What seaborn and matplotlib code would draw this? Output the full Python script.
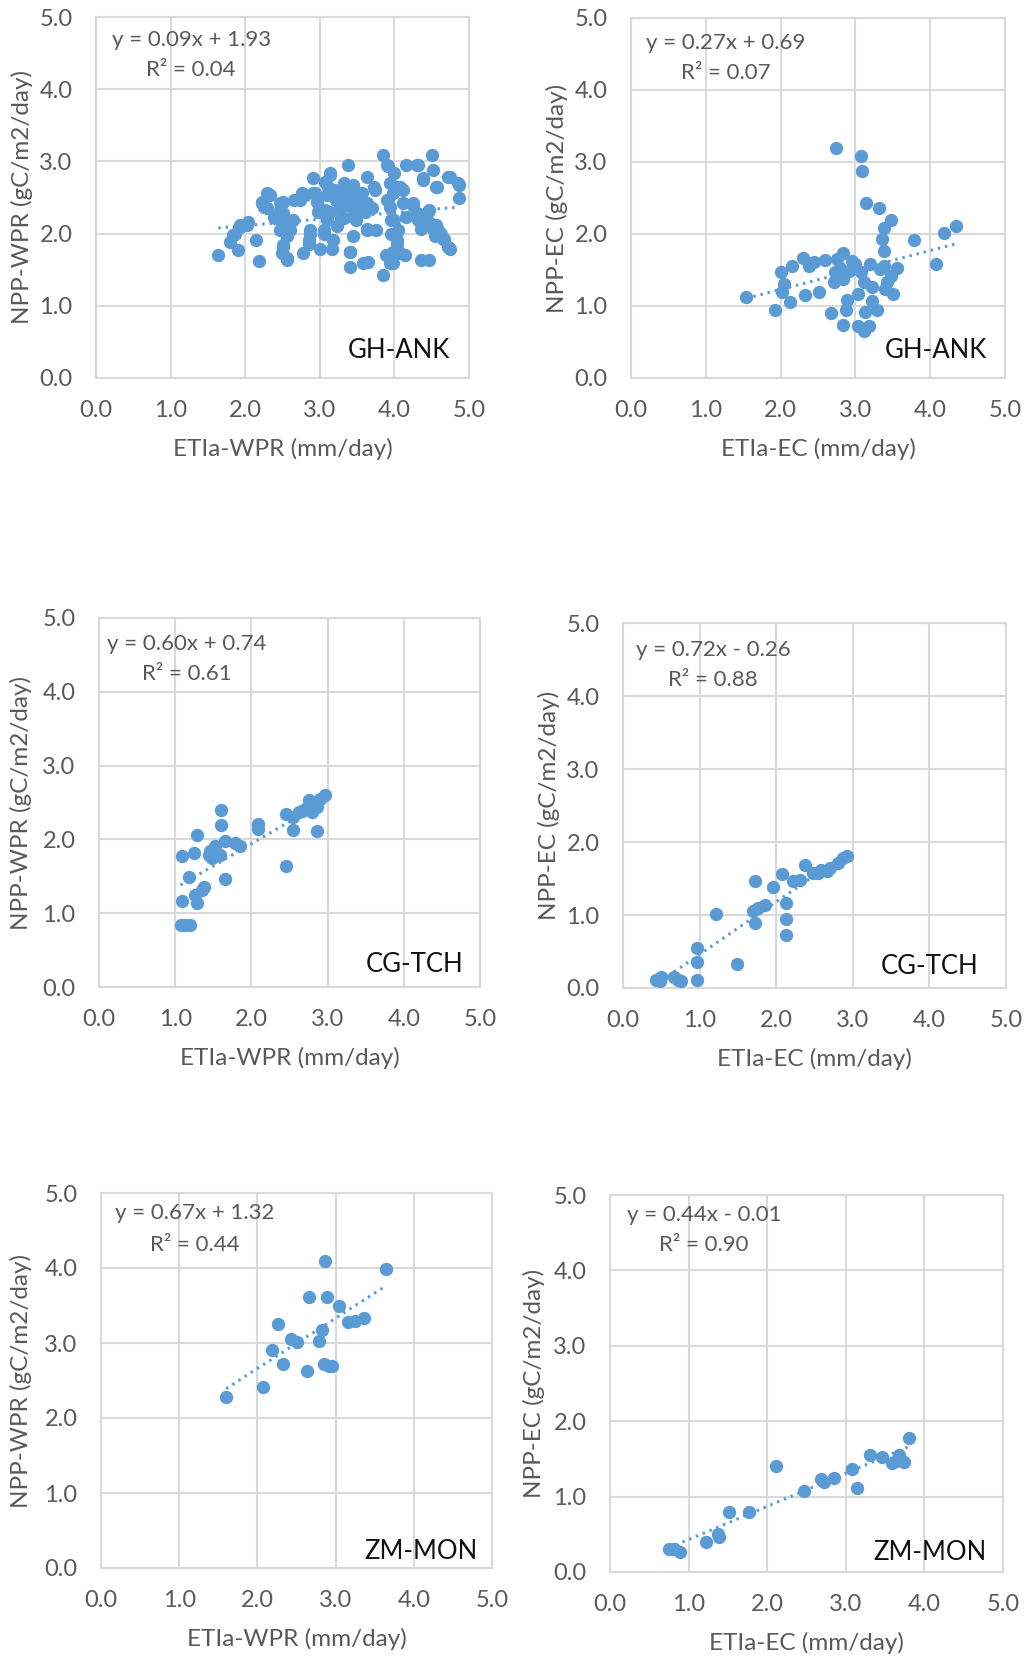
import numpy as np
import pandas as pd
import matplotlib
matplotlib.use("Agg")
import matplotlib.pyplot as plt
import seaborn as sns

# ---------------- data ----------------
p1_x = [1.64, 1.80, 1.91, 1.86, 1.93, 2.04, 2.15, 2.18, 2.22, 2.33, 2.29, 2.40, 2.49, 2.51, 2.47, 2.51, 2.49, 2.56,
        2.60, 2.64, 2.73, 2.80, 2.91, 2.93, 2.87, 2.78, 2.85, 3.00, 3.05, 3.07, 3.11, 3.14, 3.18, 3.16, 3.22, 3.29,
        3.34, 3.38, 3.40, 3.45, 3.40, 3.40, 3.45, 3.51, 3.56, 3.63, 3.63, 3.58, 3.65, 3.72, 3.76, 3.85, 3.92, 3.92,
        3.85, 3.89, 3.98, 4.00, 4.03, 4.00, 4.04, 4.07, 4.11, 4.14, 4.16, 4.30, 4.25, 4.30, 4.38, 4.38, 4.36, 4.47,
        4.50, 4.52, 4.56, 4.47, 4.56, 4.63, 4.67, 4.74, 4.74, 4.87, 4.87,
        3.14, 3.07, 3.32, 3.45, 3.74, 3.54, 3.36, 3.23, 3.09, 2.96, 2.91, 2.76, 2.65, 2.51, 2.22, 2.25, 2.38, 2.47,
        2.51, 2.56, 2.51, 2.56, 2.87, 2.85, 3.05, 3.09, 3.00, 3.14, 3.27, 3.41, 3.49, 3.63, 3.70, 3.45, 3.32, 3.49,
        3.23, 3.63, 3.41, 3.94, 3.96, 3.96, 3.94, 3.98, 3.90, 4.05, 4.03, 3.98, 3.94, 3.90, 4.07, 4.12, 4.16, 4.25,
        4.32, 4.36, 4.45, 4.48, 4.52, 4.54, 4.59, 4.65, 4.72, 4.32, 4.39, 4.57, 4.72, 4.85, 3.90, 1.93, 2.02, 1.84,
        2.29, 2.47, 2.78, 2.98, 3.36, 3.30, 3.50, 3.20, 3.60]
p1_y = [1.71, 1.89, 1.77, 2.00, 2.09, 2.16, 1.91, 1.62, 2.42, 2.53, 2.35, 2.21, 2.42, 2.28, 2.05, 1.84, 1.73, 1.63,
        2.05, 2.19, 2.47, 2.53, 2.77, 2.56, 2.00, 1.73, 1.86, 1.79, 2.05, 2.33, 2.65, 2.81, 1.91, 1.79, 2.47, 2.21,
        2.65, 2.95, 2.47, 1.96, 1.75, 1.54, 2.65, 2.37, 2.56, 2.79, 2.05, 1.59, 1.61, 2.65, 2.05, 3.09, 2.93, 2.47,
        1.42, 1.70, 1.59, 2.84, 2.65, 2.19, 1.91, 1.73, 2.61, 1.70, 2.95, 2.95, 2.42, 2.28, 2.74, 2.19, 1.63, 1.63,
        3.09, 2.88, 2.65, 2.33, 2.12, 2.00, 1.93, 1.79, 2.79, 2.67, 2.49,
        2.84, 2.72, 2.70, 2.67, 2.60, 2.51, 2.56, 2.49, 2.54, 2.44, 2.56, 2.56, 2.47, 2.44, 2.44, 2.37, 2.23, 2.33,
        2.14, 1.96, 1.82, 1.66, 2.05, 1.91, 2.00, 2.19, 2.33, 2.30, 2.37, 2.42, 2.37, 2.42, 2.35, 2.26, 2.21, 2.19,
        2.10, 2.07, 1.75, 2.37, 2.19, 2.00, 2.70, 2.56, 2.47, 2.05, 1.86, 1.75, 1.59, 1.70, 2.65, 2.42, 2.23, 2.40,
        2.19, 2.07, 2.30, 2.14, 2.07, 1.96, 2.05, 1.93, 1.82, 2.95, 2.77, 2.65, 2.79, 2.70, 2.95, 2.12, 2.12, 1.98,
        2.56, 2.42, 2.53, 2.30, 2.40, 2.50, 2.50, 2.60, 2.30]

p2_x = [2.74, 3.07, 3.09, 3.14, 3.32, 3.48, 3.38, 3.36, 3.38, 3.79, 4.18, 4.35, 4.08, 1.54, 1.93, 2.13, 2.00, 2.04,
        2.02, 2.15, 2.30, 2.38, 2.44, 2.59, 2.32, 2.52, 2.68, 2.84, 2.80, 2.73, 2.71, 2.84, 2.91, 2.99, 3.07, 3.11,
        3.22, 2.89, 3.04, 2.87, 2.84, 3.13, 3.22, 3.29, 3.03, 3.11, 3.18, 3.20, 3.33, 3.38, 3.56, 3.47, 3.42, 3.40,
        3.50, 2.95, 2.76]
p2_y = [3.19, 3.09, 2.87, 2.43, 2.36, 2.19, 2.09, 1.93, 1.77, 1.92, 2.01, 2.11, 1.59, 1.12, 0.95, 1.05, 1.47, 1.30,
        1.19, 1.56, 1.67, 1.55, 1.61, 1.64, 1.15, 1.19, 0.90, 1.74, 1.53, 1.47, 1.33, 1.37, 1.49, 1.58, 1.47, 1.33,
        1.26, 1.09, 1.16, 0.95, 0.74, 0.91, 1.07, 0.95, 0.72, 0.65, 0.72, 1.58, 1.51, 1.56, 1.53, 1.42, 1.33, 1.23,
        1.16, 1.63, 1.65]

p3_x = [1.09, 1.25, 1.29, 1.60, 1.60, 1.18, 1.09, 1.28, 1.26, 1.35, 1.38, 1.07, 1.13, 1.20, 1.46, 1.48, 1.52,
        1.59, 1.66, 1.65, 1.79, 1.85, 2.09, 2.09, 2.45, 2.45, 2.55, 2.55, 2.66, 2.70, 2.75, 2.79, 2.86, 2.86, 2.90,
        2.97, 2.81, 2.62, 1.44]
p3_y = [1.78, 1.82, 2.06, 2.40, 2.19, 1.49, 1.17, 1.14, 1.24, 1.31, 1.36, 0.84, 0.84, 0.84, 1.84, 1.75, 1.91,
        1.79, 1.98, 1.47, 1.95, 1.91, 2.21, 2.14, 1.64, 2.34, 2.13, 2.30, 2.39, 2.41, 2.53, 2.37, 2.11, 2.44, 2.55,
        2.60, 2.48, 2.37, 1.79]

p4_x = [0.43, 0.50, 0.48, 0.67, 0.76, 0.72, 0.96, 0.97, 0.96, 1.21, 1.49, 1.72, 1.72, 1.70, 1.76, 1.85, 1.96,
        2.07, 2.13, 2.13, 2.13, 2.22, 2.31, 2.38, 2.48, 2.59, 2.70, 2.81, 2.87, 2.92, 2.66, 2.55]
p4_y = [0.11, 0.15, 0.09, 0.15, 0.09, 0.11, 0.11, 0.36, 0.55, 1.02, 0.33, 1.46, 0.89, 1.05, 1.10, 1.14, 1.38,
        1.56, 1.16, 0.94, 0.73, 1.47, 1.48, 1.69, 1.58, 1.62, 1.64, 1.71, 1.78, 1.81, 1.60, 1.58]

p5_x = [1.60, 2.07, 2.19, 2.26, 2.33, 2.43, 2.51, 2.63, 2.66, 2.79, 2.83, 2.86, 2.89, 2.85, 2.91, 2.95, 3.04,
        3.16, 3.25, 3.36, 3.64]
p5_y = [2.28, 2.41, 2.91, 3.25, 2.72, 3.05, 3.02, 2.63, 3.62, 3.03, 3.17, 4.10, 3.62, 2.72, 2.69, 2.69, 3.50,
        3.28, 3.29, 3.33, 3.99]

p6_x = [0.75, 0.82, 0.89, 1.22, 1.38, 1.39, 1.51, 1.77, 2.11, 2.47, 2.68, 2.72, 2.85, 3.08, 3.14, 3.31, 3.46,
        3.59, 3.68, 3.74, 3.80, 3.64]
p6_y = [0.31, 0.30, 0.27, 0.40, 0.51, 0.47, 0.79, 0.79, 1.41, 1.08, 1.24, 1.19, 1.25, 1.36, 1.11, 1.55, 1.53,
        1.45, 1.55, 1.46, 1.78, 1.47]

slopes = [0.09, 0.27, 0.60, 0.72, 0.67, 0.44]
intercepts = [1.93, 0.69, 0.74, -0.26, 1.32, -0.01]
eq_texts = ["y = 0.09x + 1.93", "y = 0.27x + 0.69", "y = 0.60x + 0.74",
            "y = 0.72x - 0.26", "y = 0.67x + 1.32", "y = 0.44x - 0.01"]
r2_texts = ["R² = 0.04", "R² = 0.07", "R² = 0.61", "R² = 0.88", "R² = 0.44", "R² = 0.90"]
sites = ["GH-ANK", "GH-ANK", "CG-TCH", "CG-TCH", "ZM-MON", "ZM-MON"]
xlabels = ["ETIa-WPR (mm/day)", "ETIa-EC (mm/day)"] * 3
ylabels = ["NPP-WPR (gC/m2/day)", "NPP-EC (gC/m2/day)"] * 3
tick_vals = [0.0, 1.0, 2.0, 3.0, 4.0, 5.0]
tick_labels = ["0.0", "1.0", "2.0", "3.0", "4.0", "5.0"]

xs_all = [p1_x, p2_x, p3_x, p4_x, p5_x, p6_x]
ys_all = [p1_y, p2_y, p3_y, p4_y, p5_y, p6_y]

# ---------------- style / layout ----------------
sns.set_theme(style="white")
plt.rcParams["font.family"] = ["Lato", "DejaVu Sans"]

BLUE = "#5B9BD5"
GRID = "#D9D9D9"
TXT = "#595959"
FS_EQ = 16
FS_TICK = 17
FS_LAB = 17.5
FS_SITE = 18.5

W, H = 1024, 1661
boxes = [(96, 17, 469, 378), (631, 18, 1005, 378),
         (99, 618, 480, 987), (623, 623, 1006, 988),
         (101, 1193, 492, 1568), (610, 1195, 1003, 1572)]
ylab_right = [33, 568, 32, 560, 32, 545]
eq_pos = [(0.255, 0.936, 0.853), (0.254, 0.931, 0.847), (0.231, 0.930, 0.848),
          (0.235, 0.926, 0.844), (0.240, 0.947, 0.861), (0.239, 0.947, 0.867)]
site_pos = [(0.949, 0.075), (0.952, 0.075), (0.958, 0.060),
            (0.929, 0.060), (0.962, 0.043), (0.959, 0.053)]

fig = plt.figure(figsize=(W / 100, H / 100), dpi=100)
fig.patch.set_facecolor("white")

for i, (l, t, r, b) in enumerate(boxes):
    ax = fig.add_axes([l / W, 1 - b / H, (r - l) / W, (b - t) / H])
    df = pd.DataFrame({"x": xs_all[i], "y": ys_all[i]})
    sns.scatterplot(data=df, x="x", y="y", ax=ax, color=BLUE, s=92,
                    linewidth=0, alpha=1.0, zorder=3)
    xx = np.array([df["x"].min(), df["x"].max()])
    ax.plot(xx, slopes[i] * xx + intercepts[i], color=BLUE, lw=2.2,
            linestyle=(0, (0.8, 1.6)), zorder=4, dash_capstyle="butt")

    ax.set_xlim(0, 5)
    ax.set_ylim(0, 5)
    ax.set_xticks(tick_vals)
    ax.set_yticks(tick_vals)
    ax.set_xticklabels(tick_labels)
    ax.set_yticklabels(tick_labels)
    ax.tick_params(axis="both", length=0, labelsize=FS_TICK, labelcolor=TXT)
    ax.tick_params(axis="x", pad=16)
    ax.tick_params(axis="y", pad=17)
    ax.grid(True, color=GRID, lw=1.5, zorder=0)
    ax.set_axisbelow(True)
    for sp in ax.spines.values():
        sp.set_visible(True)
        sp.set_color(GRID)
        sp.set_linewidth(1.5)

    ax.set_xlabel(xlabels[i], fontsize=FS_LAB, color=TXT)
    ax.set_ylabel(ylabels[i], fontsize=FS_LAB, color=TXT)
    h_ax = b - t
    w_ax = r - l
    ax.xaxis.set_label_coords(0.5, -60 / h_ax)
    ax.yaxis.set_label_coords(-(l - ylab_right[i]) / w_ax, 0.5)

    ex, ey1, ey2 = eq_pos[i]
    ax.text(ex, ey1, eq_texts[i], transform=ax.transAxes, ha="center", va="center",
            fontsize=FS_EQ, color=TXT, zorder=5)
    ax.text(ex, ey2, r2_texts[i], transform=ax.transAxes, ha="center", va="center",
            fontsize=FS_EQ, color=TXT, zorder=5)
    sx, sy = site_pos[i]
    ax.text(sx, sy, sites[i], transform=ax.transAxes, ha="right", va="center",
            fontsize=FS_SITE, color="#111111", zorder=5)

fig.savefig("out.png", dpi=100, facecolor="white")
